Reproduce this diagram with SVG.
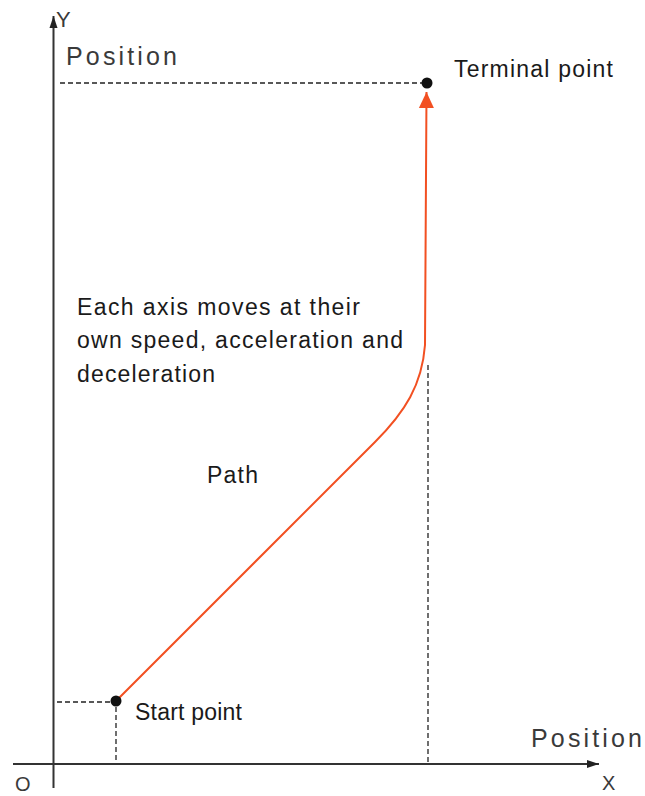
<svg xmlns="http://www.w3.org/2000/svg" width="645" height="796" viewBox="0 0 645 796">
<style>
text{font-family:"Liberation Sans",Arial,sans-serif;fill:#1a1a1a;font-size:23px}
.ax{fill:#3a3a3a;font-size:25px}
.axl{stroke:#333;stroke-width:2;fill:none}
.dash{stroke:#222;stroke-width:1.3;stroke-dasharray:5 3;fill:none}
.dot{fill:#111}
.path{stroke:#f25022;stroke-width:2;fill:none}
</style>
<defs>
<marker id="ah" markerUnits="userSpaceOnUse" markerWidth="14" markerHeight="10" refX="12" refY="5" orient="auto"><path d="M0,1 L12,5 L0,9 Z" fill="#222"/></marker>
<marker id="oh" markerUnits="userSpaceOnUse" markerWidth="18" markerHeight="18" refX="16" refY="8" orient="auto"><path d="M0,0.5 L16,8 L0,15.5 Z" fill="#f25022"/></marker>
</defs>
<rect width="645" height="796" fill="#fff"/>
<g id="axes">
<line class="axl" x1="53.5" y1="788" x2="53.5" y2="16" marker-end="url(#ah)"/>
<line class="axl" x1="13" y1="764" x2="599" y2="764" marker-end="url(#ah)"/>
<text class="ax" x="56" y="27" style="font-size:22px">Y</text>
<text class="ax" x="602" y="790" style="font-size:20px">X</text>
<text class="ax" x="15" y="791" style="font-size:20px">O</text>
<text class="ax" x="66" y="65" textLength="111" lengthAdjust="spacing">Position</text>
<text class="ax" x="531" y="747" textLength="111" lengthAdjust="spacing">Position</text>
</g>
<g id="guides">
<line class="dash" x1="60" y1="83" x2="422" y2="83"/>
<line class="dash" x1="428" y1="365" x2="428" y2="763"/>
<line class="dash" x1="57" y1="702" x2="110" y2="702"/>
<line class="dash" x1="116" y1="707" x2="116" y2="763"/>
</g>
<g id="connectors">
<path class="path" d="M116,701 L375,442 C405,412 422,385 425,345 L426.5,92" marker-end="url(#oh)"/>
</g>
<g id="terminal-point">
<circle class="dot" cx="427" cy="83" r="5.5"/>
<text x="454" y="77" textLength="159" lengthAdjust="spacing">Terminal point</text>
</g>
<g id="start-point">
<circle class="dot" cx="116" cy="701" r="5.5"/>
<text x="135" y="720" textLength="107" lengthAdjust="spacing">Start point</text>
</g>
<g id="note">
<text x="77" y="315" textLength="283" lengthAdjust="spacing">Each axis moves at their</text>
<text x="77" y="348" textLength="326" lengthAdjust="spacing">own speed, acceleration and</text>
<text x="77" y="382" textLength="138" lengthAdjust="spacing">deceleration</text>
</g>
<g id="path-label">
<text x="207" y="483" textLength="51" lengthAdjust="spacing">Path</text>
</g>
</svg>
